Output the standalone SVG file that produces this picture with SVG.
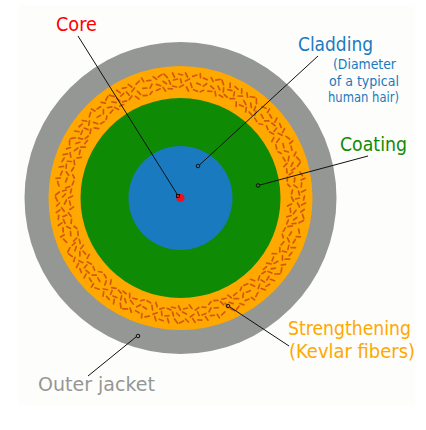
<svg xmlns="http://www.w3.org/2000/svg" width="426" height="430" viewBox="0 0 426 430">
<style>
text{font-family:"DejaVu Sans",Verdana,sans-serif;font-size:19px}
.s{font-size:14px;fill:#1a7abf}
.l{fill:none;stroke:#111;stroke-width:1}
.f{fill:none;stroke:#d4580f;stroke-width:1.7;stroke-linecap:round}
</style>
<defs>
<path id="a" class="f" d="M-8-125l2 4M-2-124l4 1M5-125l2 4M-7-118l4-1M0-119l1 4M5-117l4-2M-8-112l4 1M-1-111l4-2M6-111l2 4"/>
<path id="b" class="f" d="M-7-122l4-2M0-126l1 4M4-122l4 1M-8-115l2 4M-2-116l4 1M5-114l3-3M-4-109l4 1M3-108l3-2"/>
<path id="c" class="f" d="M-8-124l3 3M-3-123l4-2M3-125l3 4M-6-116l4 2M1-118l3 3M7-118l1 4M-7-110l4-1M0-112l2 4M5-110l4 1"/>
</defs>
<rect x="18" y="5" width="397" height="400" fill="#fdfdfb"/>
<g id="outer-jacket"><circle cx="180.500" cy="198" r="156" fill="#959794"/></g>
<g id="strengthening"><circle cx="180.500" cy="198" r="132" fill="#ffa800"/>
<g transform="translate(180.500 198)">
<use href="#a"/><use href="#b" transform="rotate(9)"/><use href="#c" transform="rotate(18)"/><use href="#a" transform="rotate(27)"/><use href="#c" transform="rotate(36)"/><use href="#b" transform="rotate(45)"/><use href="#a" transform="rotate(54)"/><use href="#b" transform="rotate(63)"/><use href="#c" transform="rotate(72)"/><use href="#b" transform="rotate(81)"/><use href="#a" transform="rotate(90)"/><use href="#c" transform="rotate(99)"/><use href="#b" transform="rotate(108)"/><use href="#a" transform="rotate(117)"/><use href="#c" transform="rotate(126)"/><use href="#a" transform="rotate(135)"/><use href="#b" transform="rotate(144)"/><use href="#c" transform="rotate(153)"/><use href="#b" transform="rotate(162)"/><use href="#a" transform="rotate(171)"/><use href="#c" transform="rotate(180)"/><use href="#a" transform="rotate(189)"/><use href="#b" transform="rotate(198)"/><use href="#c" transform="rotate(207)"/><use href="#a" transform="rotate(216)"/><use href="#b" transform="rotate(225)"/><use href="#a" transform="rotate(234)"/><use href="#c" transform="rotate(243)"/><use href="#b" transform="rotate(252)"/><use href="#a" transform="rotate(261)"/><use href="#c" transform="rotate(270)"/><use href="#b" transform="rotate(279)"/><use href="#a" transform="rotate(288)"/><use href="#c" transform="rotate(297)"/><use href="#a" transform="rotate(306)"/><use href="#b" transform="rotate(315)"/><use href="#c" transform="rotate(324)"/><use href="#a" transform="rotate(333)"/><use href="#b" transform="rotate(342)"/><use href="#c" transform="rotate(351)"/>
</g></g>
<g id="coating"><circle cx="180.500" cy="198" r="100" fill="#0f8a05"/></g>
<g id="cladding"><circle cx="180.500" cy="198" r="52" fill="#1a7abf"/></g>
<g id="core"><circle cx="180.500" cy="198" r="4" fill="#f01020"/></g>
<g id="connectors">
<path class="l" d="M78 36L177 194"/><rect class="l" x="176.500" y="194.500" width="3" height="3"/>
<path class="l" d="M318 56L200 164.500"/><circle class="l" cx="198" cy="166" r="1.800"/>
<path class="l" d="M368 156L260 185"/><circle class="l" cx="258" cy="185.500" r="1.800"/>
<path class="l" d="M289 346L230 307"/><circle class="l" cx="228" cy="306" r="1.800"/>
<path class="l" d="M88 376L136 337"/><circle class="l" cx="138" cy="336" r="1.800"/>
</g>
<g id="labels">
<text x="56" y="31" fill="#f00" textLength="41" lengthAdjust="spacingAndGlyphs">Core</text>
<text x="298" y="51" fill="#1a7abf" textLength="75" lengthAdjust="spacingAndGlyphs">Cladding</text>
<text class="s" x="333" y="69" textLength="63" lengthAdjust="spacingAndGlyphs">(Diameter</text>
<text class="s" x="329" y="86" textLength="70" lengthAdjust="spacingAndGlyphs">of a typical</text>
<text class="s" x="328" y="101.500" textLength="71" lengthAdjust="spacingAndGlyphs">human hair)</text>
<text x="340" y="151" fill="#0f8a05" textLength="67" lengthAdjust="spacingAndGlyphs">Coating</text>
<text x="288" y="335" fill="#ffa800" textLength="123" lengthAdjust="spacingAndGlyphs">Strengthening</text>
<text x="289" y="358" fill="#ffa800" textLength="126" lengthAdjust="spacingAndGlyphs">(Kevlar fibers)</text>
<text x="38" y="391" fill="#959794" textLength="117" lengthAdjust="spacingAndGlyphs">Outer jacket</text>
</g>
</svg>
